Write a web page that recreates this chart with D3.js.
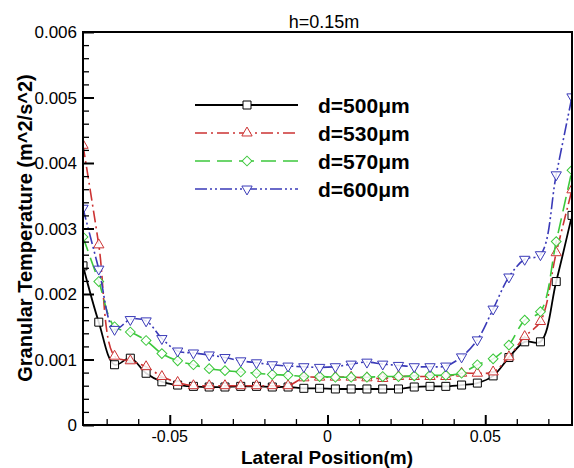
<!DOCTYPE html>
<html>
<head>
<meta charset="utf-8">
<script src="https://cdn.jsdelivr.net/npm/d3@7"></script>
<style>
  html, body { margin: 0; padding: 0; background: #fff; }
  svg { display: block; }
  text { font-family: "Liberation Sans", Arial, sans-serif; }
</style>
</head>
<body>
<svg id="chart" width="574" height="468"></svg>
<script>
// ---------- data ----------
const xPositions = [-0.0775, -0.0725, -0.0675, -0.0625, -0.0575, -0.0525, -0.0475, -0.0425,
  -0.0375, -0.0325, -0.0275, -0.0225, -0.0175, -0.0125, -0.0075, -0.0025,
  0.0025, 0.0075, 0.0125, 0.0175, 0.0225, 0.0275, 0.0325, 0.0375,
  0.0425, 0.0475, 0.0525, 0.0575, 0.0625, 0.0675, 0.0725, 0.0775];

const d500 = [0.00243, 0.00157, 0.00092, 0.00102, 0.00079, 0.00066, 0.00061, 0.00059,
  0.00058, 0.00058, 0.00059, 0.00059, 0.00058, 0.00058, 0.00056, 0.00056,
  0.00055, 0.00055, 0.00055, 0.00055, 0.00055, 0.00058, 0.00059, 0.00059,
  0.00061, 0.00064, 0.00075, 0.00103, 0.00127, 0.00127, 0.00219, 0.00320];

const d530 = [0.00427, 0.00275, 0.00105, 0.00098, 0.00089, 0.00074, 0.00065, 0.00060,
  0.00060, 0.00060, 0.00060, 0.00060, 0.00060, 0.00060, 0.00072, 0.00073,
  0.00073, 0.00073, 0.00072, 0.00071, 0.00074, 0.00074, 0.00074, 0.00074,
  0.00079, 0.00079, 0.00081, 0.00104, 0.00135, 0.00158, 0.00263, 0.00359];

const d570 = [0.00287, 0.00219, 0.00150, 0.00142, 0.00129, 0.00109, 0.00098, 0.00092,
  0.00086, 0.00083, 0.00081, 0.00079, 0.00077, 0.00076, 0.00074, 0.00074,
  0.00073, 0.00073, 0.00073, 0.00074, 0.00074, 0.00075, 0.00076, 0.00076,
  0.00079, 0.00092, 0.00101, 0.00122, 0.00160, 0.00173, 0.00280, 0.00389];

const d600 = [0.00331, 0.00238, 0.00146, 0.00161, 0.00159, 0.00132, 0.00113, 0.00110,
  0.00107, 0.00103, 0.00098, 0.00095, 0.00092, 0.00090, 0.00089, 0.00088,
  0.00089, 0.00093, 0.00096, 0.00093, 0.00091, 0.00089, 0.00089, 0.00090,
  0.00104, 0.00130, 0.00177, 0.00226, 0.00253, 0.00260, 0.00382, 0.00501];

const seriesNames = ["d=500μm", "d=530μm", "d=570μm", "d=600μm"];
const yTickValues = [0, 0.001, 0.002, 0.003, 0.004, 0.005, 0.006];
const yTickLabels = ["0", "0.001", "0.002", "0.003", "0.004", "0.005", "0.006"];
const xTickValues = [-0.05, 0, 0.05];
const xTickLabels = ["-0.05", "0", "0.05"];
const xMinorTicks = [-0.07, -0.06, -0.04, -0.03, -0.02, -0.01, 0.01, 0.02, 0.03, 0.04, 0.06, 0.07];
const yMinorTicks = [0.0002, 0.0004, 0.0006, 0.0008, 0.0012, 0.0014, 0.0016, 0.0018,
  0.0022, 0.0024, 0.0026, 0.0028, 0.0032, 0.0034, 0.0036, 0.0038,
  0.0042, 0.0044, 0.0046, 0.0048, 0.0052, 0.0054, 0.0056, 0.0058];
const titleText = "h=0.15m";
const xLabel = "Lateral Position(m)";
const yLabel = "Granular Temperature (m^2/s^2)";

// ---------- styles ----------
const seriesStyles = [
  { color: "#000000", dash: null, marker: "square", width: 1.8 },
  { color: "#cc3333", dash: "12,4,2,4", marker: "triangle", width: 1.6 },
  { color: "#3cc83c", dash: "15,7", marker: "diamond", width: 1.6 },
  { color: "#3a3ab8", dash: "12,3,2,3,2,3", marker: "triangleDown", width: 1.6 }
];

const svg = d3.select("#chart");
const M = { left: 83, right: 572, top: 32, bottom: 425 };

const x = d3.scaleLinear().domain([-0.0775, 0.0775]).range([M.left, M.right]);
const y = d3.scaleLinear().domain([0, 0.006]).range([M.bottom, M.top]);

const seriesData = [d500, d530, d570, d600].map(vals => vals.map((v, i) => ({ x: xPositions[i], y: v })));

function markerPath(type) {
  if (type === "square") return d3.symbol().type(d3.symbolSquare).size(64)();
  if (type === "triangle" || type === "triangleDown") return d3.symbol().type(d3.symbolTriangle).size(46)();
  return d3.symbol().type(d3.symbolSquare).size(48)();
}
function markerRotate(type) {
  if (type === "triangleDown") return 180;
  if (type === "diamond") return 45;
  return 0;
}

svg.append("defs").append("clipPath").attr("id", "clip")
  .append("rect").attr("x", M.left).attr("y", M.top)
  .attr("width", M.right - M.left).attr("height", M.bottom - M.top);

const line = d3.line().x(d => x(d.x)).y(d => y(d.y)).curve(d3.curveCatmullRom.alpha(0.5));

const plot = svg.append("g").attr("clip-path", "url(#clip)");
seriesData.forEach((data, si) => {
  const st = seriesStyles[si];
  const g = plot.append("g");
  g.append("path").datum(data).attr("d", line)
    .attr("fill", "none").attr("stroke", st.color)
    .attr("stroke-width", st.width)
    .attr("stroke-dasharray", st.dash);
  g.selectAll("path.m").data(data).enter().append("path").attr("class", "m")
    .attr("d", markerPath(st.marker))
    .attr("transform", d => `translate(${x(d.x)},${y(d.y)}) rotate(${markerRotate(st.marker)})`)
    .attr("fill", "#fff").attr("fill-opacity", 0.85)
    .attr("stroke", st.color).attr("stroke-width", 1);
});

// axes with ticks inward
const axisG = svg.append("g");
function styleAxis(g, w) {
  g.select(".domain").remove();
  g.selectAll("line").attr("stroke", "#000").attr("stroke-width", w);
}
axisG.append("g").attr("transform", `translate(${M.left},0)`)
  .call(d3.axisRight(y).tickValues(yTickValues).tickSize(11).tickFormat(""))
  .call(g => styleAxis(g, 2));
axisG.append("g").attr("transform", `translate(${M.left},0)`)
  .call(d3.axisRight(y).tickValues(yMinorTicks).tickSize(6).tickFormat(""))
  .call(g => styleAxis(g, 1.3));
axisG.append("g").attr("transform", `translate(0,${M.bottom})`)
  .call(d3.axisTop(x).tickValues(xTickValues).tickSize(10).tickFormat(""))
  .call(g => styleAxis(g, 2));
axisG.append("g").attr("transform", `translate(0,${M.bottom})`)
  .call(d3.axisTop(x).tickValues(xMinorTicks).tickSize(6).tickFormat(""))
  .call(g => styleAxis(g, 1.3));

// frame
svg.append("rect").attr("x", M.left).attr("y", M.top)
  .attr("width", M.right - M.left).attr("height", M.bottom - M.top)
  .attr("fill", "none").attr("stroke", "#000").attr("stroke-width", 2);

// tick labels
svg.selectAll("text.yt").data(yTickValues).enter().append("text").attr("class", "yt")
  .attr("x", 77).attr("y", d => y(d) + 6)
  .attr("text-anchor", "end").attr("font-size", 17).attr("fill", "#000")
  .text((d, i) => yTickLabels[i]);
svg.selectAll("text.xt").data(xTickValues).enter().append("text").attr("class", "xt")
  .attr("x", d => x(d)).attr("y", 442)
  .attr("text-anchor", "middle").attr("font-size", 16).attr("fill", "#000")
  .text((d, i) => xTickLabels[i]);

// title
svg.append("text").attr("x", 324).attr("y", 28).attr("text-anchor", "middle")
  .attr("font-size", 18).attr("fill", "#000").text(titleText);

// axis labels
svg.append("text").attr("x", 327).attr("y", 464).attr("text-anchor", "middle")
  .attr("font-size", 19).attr("font-weight", "bold").attr("fill", "#000").text(xLabel);
svg.append("text").attr("transform", "translate(32,228) rotate(-90)").attr("text-anchor", "middle")
  .attr("font-size", 20).attr("font-weight", "bold").attr("fill", "#000").text(yLabel);

// legend
const legendY = [105, 133, 161, 189];
const legend = svg.append("g");
seriesNames.forEach((name, i) => {
  const st = seriesStyles[i];
  const ly = legendY[i];
  legend.append("line").attr("x1", 195).attr("x2", 298).attr("y1", ly).attr("y2", ly)
    .attr("stroke", st.color).attr("stroke-width", st.width).attr("stroke-dasharray", st.dash);
  legend.append("path").attr("d", markerPath(st.marker))
    .attr("transform", `translate(247,${ly}) rotate(${markerRotate(st.marker)})`)
    .attr("fill", "#fff").attr("stroke", st.color).attr("stroke-width", 1);
  legend.append("text").attr("x", 318).attr("y", ly + 8)
    .attr("font-size", 21).attr("font-weight", "bold").attr("fill", "#000").text(name);
});
</script>
</body>
</html>
